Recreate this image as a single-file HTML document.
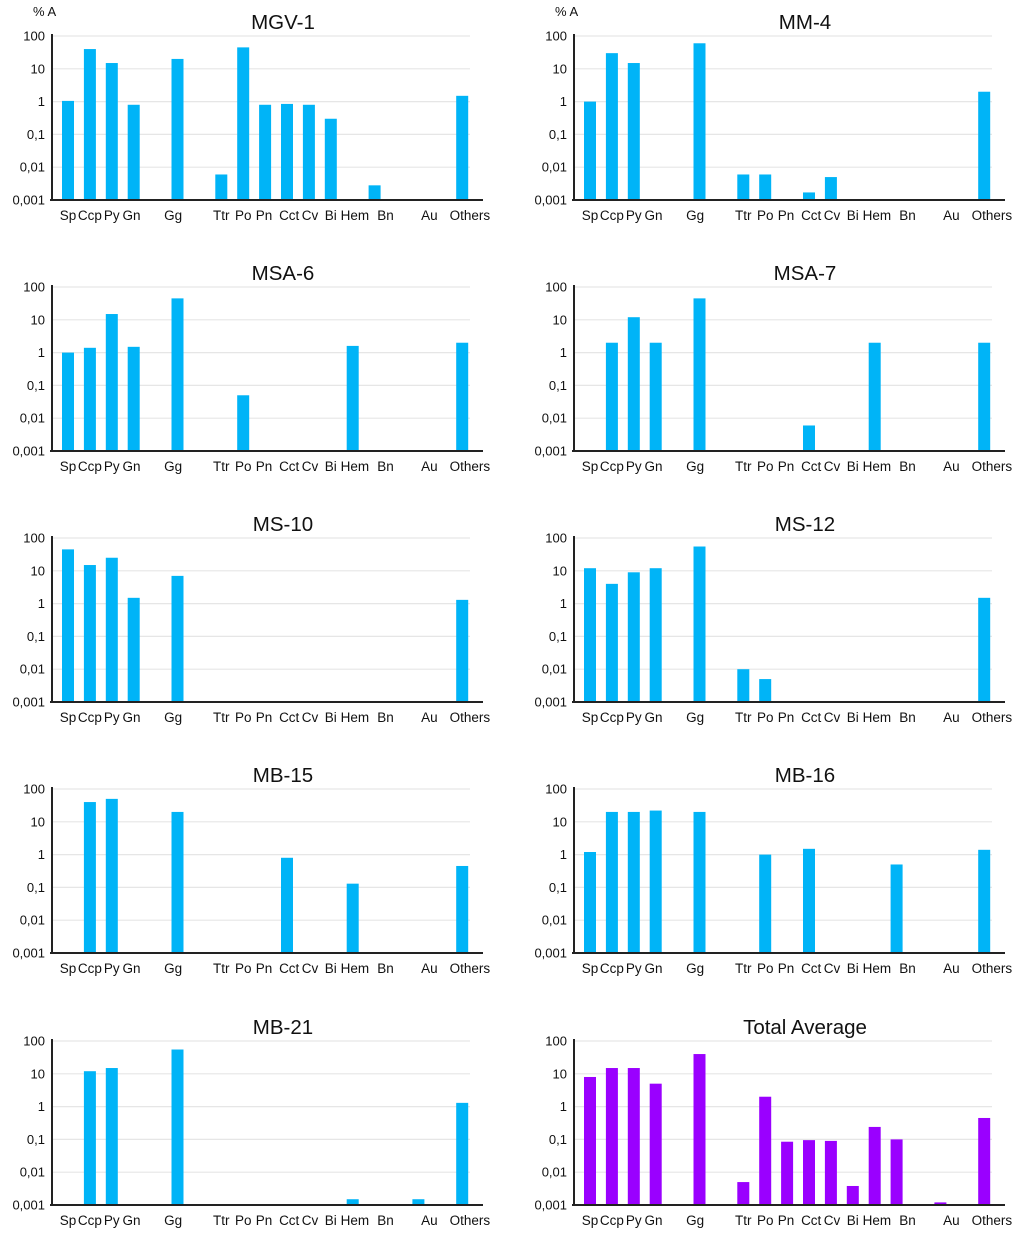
<!DOCTYPE html>
<html><head><meta charset="utf-8">
<style>
body{margin:0;background:#fff;width:1024px;height:1239px;overflow:hidden}
svg{display:block}
text{font-family:"Liberation Sans",sans-serif;fill:#111}
</style></head>
<body>
<svg id="chart" width="1024" height="1239" viewBox="0 0 1024 1239" xmlns="http://www.w3.org/2000/svg"></svg>
<script>
const categories=["Sp","Ccp","Py","Gn","Gg","Ttr","Po","Pn","Cct","Cv","Bi","Hem","Bn","Au","Others"];
const slots=[0,1,2,3,5,7,8,9,10,11,12,13,14,16,18];
const labelSlots=[0,1,2,2.9,4.8,7,8,8.95,10.1,11.05,12,13.1,14.5,16.5,18.35];
const tickValues=[100,10,1,0.1,0.01,0.001];
const tickLabels=["100","10","1","0,1","0,01","0,001"];
const titles=["MGV-1","MM-4","MSA-6","MSA-7","MS-10","MS-12","MB-15","MB-16","MB-21","Total Average"];
const sMGV1=[1.05,40,15,0.8,20,0.006,45,0.8,0.85,0.8,0.3,0,0.0028,0,1.5];
const sMM4=[1,30,15,0,60,0.006,0.006,0,0.0017,0.005,0,0,0,0,2];
const sMSA6=[1,1.4,15,1.5,45,0,0.05,0,0,0,0,1.6,0,0,2];
const sMSA7=[0,2,12,2,45,0,0,0,0.006,0,0,2,0,0,2];
const sMS10=[45,15,25,1.5,7,0,0,0,0,0,0,0,0,0,1.3];
const sMS12=[12,4,9,12,55,0.01,0.005,0,0,0,0,0,0,0,1.5];
const sMB15=[0,40,50,0,20,0,0,0,0.8,0,0,0.13,0,0,0.45];
const sMB16=[1.2,20,20,22,20,0,1,0,1.5,0,0,0,0.5,0,1.4];
const sMB21=[0,12,15,0,55,0,0,0,0,0,0,0.0015,0,0.0015,1.3];
const sTotal=[8,15,15,5,40,0.005,2,0.085,0.095,0.09,0.0038,0.24,0.1,0.0012,0.45];
const series=[sMGV1,sMM4,sMSA6,sMSA7,sMS10,sMS12,sMB15,sMB16,sMB21,sTotal];

const NS="http://www.w3.org/2000/svg";
const svg=document.getElementById('chart');
function mk(tag,attrs,parent){const e=document.createElementNS(NS,tag);for(const k in attrs)e.setAttribute(k,attrs[k]);parent.appendChild(e);return e;}
const tops=[36,287,538,789,1041];
const H=164;
series.forEach((vals,i)=>{
  const col=i%2,row=Math.floor(i/2);
  const ax=col?574:52, top=tops[row], bot=top+H;
  const g=mk('g',{},svg);
  
  
  const y=v=>bot-(Math.log10(v)+3)/5*H;
  const x=s=>ax+16+s*21.9;
  tickValues.forEach((tv,k)=>{
    const yy=y(tv);
    if(k<5){const gl=mk('line',{x1:ax,x2:ax+418,y1:yy,y2:yy,stroke:'#e6e6e6','stroke-width':1.2},g);
      
      }
    const t=mk('text',{x:ax-7,y:yy+4.5,'text-anchor':'end','font-size':13},g);
    t.textContent=tickLabels[k];
    
    
  });
  vals.forEach((v,j)=>{
    if(v>0.001){
      const b=mk('rect',{x:x(slots[j])-6,y:y(v),width:12,height:bot-y(v),fill:i==9?'#9a00ff':'#00b4f7'},g);
      
      
    }
    const t=mk('text',{x:x(labelSlots[j]),y:bot+20,'text-anchor':'middle','font-size':13.5},g);
    t.textContent=categories[j];
    
    
  });
  const yl=mk('line',{x1:ax,x2:ax,y1:top-2,y2:bot+1,stroke:'#222','stroke-width':2},g);
  
  
  const xl=mk('line',{x1:ax-2,x2:ax+431,y1:bot,y2:bot,stroke:'#222','stroke-width':2},g);
  
  
  const tt=mk('text',{x:ax+231,y:top-7,'text-anchor':'middle','font-size':20.5},g);
  tt.textContent=titles[i];
  
  
  if(row==0){
    const u=mk('text',{x:ax-19,y:top-20,'font-size':13},g);
    u.textContent='% A';
    
    
  }
});
</script>
</body></html>
